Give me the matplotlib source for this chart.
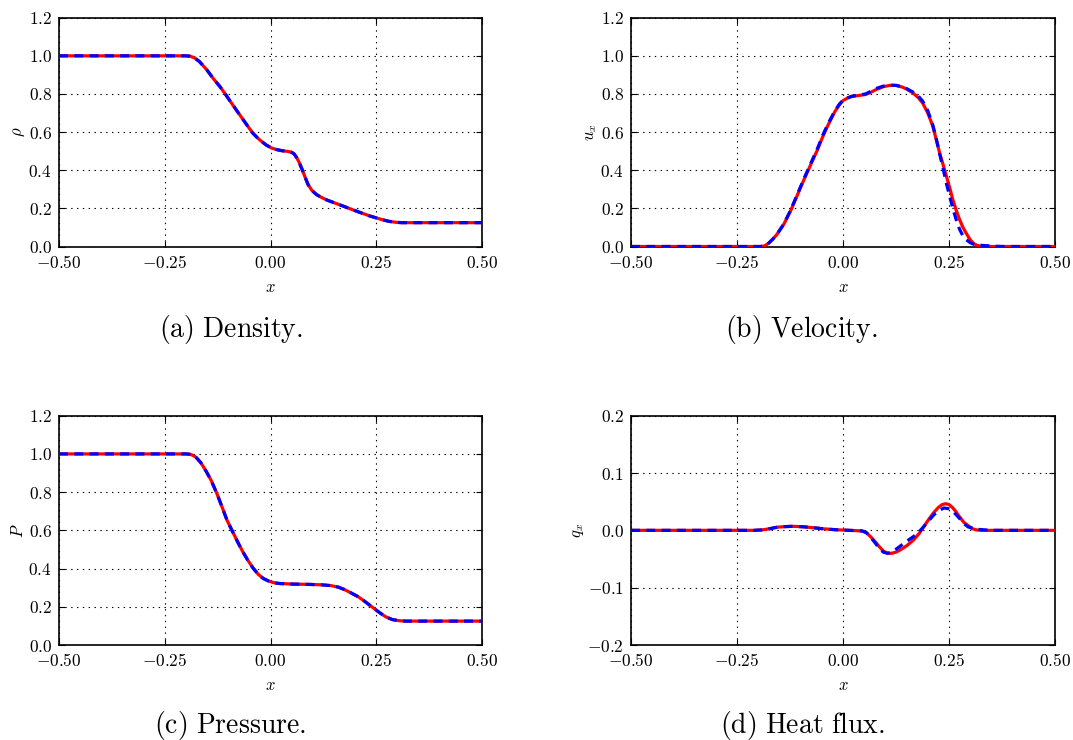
import matplotlib
matplotlib.use("Agg")
import matplotlib.pyplot as plt

plt.rcParams['mathtext.fontset'] = 'cm'
plt.rcParams['font.family'] = ['DejaVu Serif']
plt.rcParams['lines.scale_dashes'] = False

# ---------------- data ----------------
xticks = [-0.5, -0.25, 0.0, 0.25, 0.5]
xtick_labels = [r'$-0.50$', r'$-0.25$', r'$0.00$', r'$0.25$', r'$0.50$']
yticks_main = [0.0, 0.2, 0.4, 0.6, 0.8, 1.0, 1.2]
ytick_labels_main = [r'$0.0$', r'$0.2$', r'$0.4$', r'$0.6$', r'$0.8$', r'$1.0$', r'$1.2$']
yticks_q = [-0.2, -0.1, 0.0, 0.1, 0.2]
ytick_labels_q = [r'$-0.2$', r'$-0.1$', r'$0.0$', r'$0.1$', r'$0.2$']

captions = [r'$\mathrm{(a)\ Density.}$', r'$\mathrm{(b)\ Velocity.}$',
            r'$\mathrm{(c)\ Pressure.}$', r'$\mathrm{(d)\ Heat\ flux.}$']
ylabels = [r'$\rho$', r'$u_x$', r'$P$', r'$q_x$']

# Density
rho_x = [-0.5, -0.2, -0.19, -0.18, -0.168, -0.15, -0.135, -0.12, -0.107, -0.09,
         -0.07, -0.055, -0.042, -0.03, -0.021, -0.01, 0.003, 0.015, 0.028, 0.04,
         0.05, 0.056, 0.062, 0.068, 0.075, 0.082, 0.089, 0.098, 0.109, 0.12,
         0.134, 0.15, 0.174, 0.195, 0.215, 0.235, 0.25, 0.265, 0.28, 0.296,
         0.31, 0.5]
rho_red = [1.0, 1.0, 0.998, 0.99, 0.970, 0.925, 0.880, 0.84, 0.80, 0.745,
           0.682, 0.635, 0.595, 0.568, 0.551, 0.532, 0.516, 0.508, 0.502, 0.499,
           0.494, 0.485, 0.466, 0.440, 0.403, 0.362, 0.324, 0.294, 0.272, 0.258,
           0.243, 0.230, 0.210, 0.192, 0.176, 0.160, 0.150, 0.140, 0.132, 0.127,
           0.125, 0.125]
rho_blue = [1.0, 1.0, 0.998, 0.99, 0.970, 0.925, 0.880, 0.84, 0.80, 0.745,
            0.682, 0.635, 0.595, 0.568, 0.551, 0.532, 0.516, 0.508, 0.502, 0.499,
            0.494, 0.485, 0.466, 0.440, 0.403, 0.362, 0.324, 0.294, 0.272, 0.258,
            0.243, 0.230, 0.210, 0.192, 0.176, 0.160, 0.150, 0.140, 0.132, 0.127,
            0.125, 0.125]

# Velocity
u_x_red = [-0.5, -0.195, -0.185, -0.175, -0.165, -0.156, -0.14, -0.124, -0.108, -0.092,
           -0.076, -0.06, -0.048, -0.035, -0.019, -0.008, 0.0, 0.01, 0.021, 0.037,
           0.053, 0.065, 0.077, 0.095, 0.11, 0.125, 0.14, 0.15, 0.165, 0.178,
           0.188, 0.2, 0.212, 0.22, 0.228, 0.236, 0.244, 0.252, 0.259, 0.267,
           0.275, 0.283, 0.291, 0.3, 0.308, 0.315, 0.325, 0.335, 0.5]
u_red = [0.0, 0.0, 0.003, 0.018, 0.040, 0.063, 0.115, 0.185, 0.268, 0.351,
         0.430, 0.508, 0.575, 0.638, 0.708, 0.745, 0.765, 0.778, 0.787, 0.792,
         0.797, 0.808, 0.822, 0.838, 0.845, 0.845, 0.836, 0.826, 0.805, 0.78,
         0.752, 0.70, 0.630, 0.56, 0.490, 0.43, 0.368, 0.305, 0.246, 0.19,
         0.141, 0.10, 0.068, 0.035, 0.016, 0.007, 0.001, 0.0, 0.0]
u_x_blue = [-0.5, -0.195, -0.185, -0.175, -0.165, -0.156, -0.14, -0.124, -0.108, -0.092,
            -0.076, -0.06, -0.048, -0.035, -0.019, -0.008, 0.0, 0.01, 0.021, 0.037,
            0.053, 0.065, 0.077, 0.095, 0.11, 0.125, 0.14, 0.15, 0.165, 0.178,
            0.188, 0.2, 0.212, 0.22, 0.228, 0.236, 0.244, 0.252, 0.259, 0.267,
            0.275, 0.283, 0.291, 0.3, 0.308, 0.32, 0.34, 0.36, 0.38, 0.5]
u_blue = [0.0, 0.0, 0.003, 0.018, 0.040, 0.063, 0.117, 0.188, 0.272, 0.356,
          0.436, 0.515, 0.582, 0.645, 0.712, 0.748, 0.767, 0.779, 0.788, 0.794,
          0.800, 0.813, 0.828, 0.841, 0.846, 0.845, 0.838, 0.828, 0.810, 0.788,
          0.762, 0.712, 0.635, 0.565, 0.485, 0.41, 0.33, 0.26, 0.20, 0.14,
          0.09, 0.055, 0.035, 0.02, 0.012, 0.007, 0.004, 0.001, 0.0, 0.0]

# Pressure
p_x = [-0.5, -0.2, -0.19, -0.183, -0.176, -0.165, -0.151, -0.14, -0.127, -0.115,
       -0.103, -0.09, -0.078, -0.066, -0.054, -0.042, -0.029, -0.017, -0.005, 0.008,
       0.02, 0.05, 0.093, 0.12, 0.142, 0.16, 0.174, 0.19, 0.207, 0.223,
       0.239, 0.255, 0.272, 0.288, 0.305, 0.32, 0.5]
p_red = [1.0, 1.0, 0.998, 0.992, 0.982, 0.955, 0.905, 0.86, 0.794, 0.725,
         0.654, 0.595, 0.541, 0.49, 0.445, 0.405, 0.370, 0.348, 0.335, 0.326,
         0.322, 0.319, 0.317, 0.315, 0.311, 0.303, 0.291, 0.273, 0.253, 0.228,
         0.201, 0.174, 0.148, 0.133, 0.127, 0.125, 0.125]
p_blue = [1.0, 1.0, 0.998, 0.992, 0.982, 0.955, 0.905, 0.86, 0.794, 0.725,
          0.654, 0.595, 0.541, 0.49, 0.445, 0.405, 0.370, 0.348, 0.335, 0.326,
          0.322, 0.319, 0.317, 0.315, 0.311, 0.303, 0.291, 0.273, 0.253, 0.228,
          0.201, 0.174, 0.148, 0.133, 0.127, 0.125, 0.125]

# Heat flux
q_x_red = [-0.5, -0.21, -0.19, -0.172, -0.155, -0.14, -0.12, -0.108, -0.09, -0.076,
           -0.05, -0.035, -0.015, 0.0, 0.045, 0.055, 0.065, 0.075, 0.085, 0.095,
           0.105, 0.115, 0.125, 0.133, 0.15, 0.166, 0.179, 0.19, 0.203, 0.214,
           0.225, 0.234, 0.242, 0.25, 0.258, 0.266, 0.274, 0.285, 0.297, 0.305,
           0.313, 0.325, 0.5]
q_red = [0.0, 0.0, 0.0008, 0.003, 0.0055, 0.0064, 0.007, 0.0068, 0.006, 0.005,
         0.003, 0.002, 0.001, 0.0005, -0.001, -0.004, -0.011, -0.019, -0.028, -0.036,
         -0.040, -0.040, -0.038, -0.035, -0.027, -0.017, -0.006, 0.006, 0.020, 0.031,
         0.040, 0.045, 0.0465, 0.045, 0.040, 0.033, 0.0244, 0.014, 0.007, 0.003,
         0.001, 0.0, 0.0]
q_x_blue = [-0.5, -0.21, -0.19, -0.172, -0.155, -0.14, -0.12, -0.108, -0.09, -0.076,
            -0.05, -0.035, -0.015, 0.0, 0.045, 0.055, 0.065, 0.075, 0.085, 0.095,
            0.105, 0.115, 0.125, 0.134, 0.15, 0.166, 0.18, 0.19, 0.203, 0.214,
            0.225, 0.238, 0.248, 0.258, 0.266, 0.274, 0.285, 0.295, 0.305, 0.315,
            0.33, 0.35, 0.5]
q_blue = [0.0, 0.0, 0.0008, 0.003, 0.0055, 0.0064, 0.007, 0.0068, 0.006, 0.005,
          0.003, 0.002, 0.001, 0.0005, -0.001, -0.004, -0.012, -0.021, -0.031, -0.038,
          -0.040, -0.038, -0.033, -0.028, -0.019, -0.011, -0.002, 0.006, 0.0175, 0.027,
          0.034, 0.039, 0.038, 0.034, 0.028, 0.0215, 0.012, 0.006, 0.004, 0.002,
          0.001, 0.0, 0.0]

# ---------------- figure ----------------
W, H = 1073, 740
fig = plt.figure(figsize=(W / 100, H / 100), dpi=100)

def px_axes(l, r, t, b):
    return fig.add_axes([l / W, 1 - b / H, (r - l) / W, (b - t) / H])

axes = [px_axes(59, 482, 17.7, 246.5), px_axes(631, 1055, 17.7, 246.5),
        px_axes(59, 482, 415.7, 645), px_axes(631, 1055, 415.7, 645)]

series = [(rho_x, rho_red, rho_x, rho_blue),
          (u_x_red, u_red, u_x_blue, u_blue),
          (p_x, p_red, p_x, p_blue),
          (q_x_red, q_red, q_x_blue, q_blue)]

for i, ax in enumerate(axes):
    xr, yr, xb, yb = series[i]
    ax.plot(xr, yr, color='#ff0000', lw=2.3, solid_capstyle='butt',
            solid_joinstyle='round', zorder=3)
    ax.plot(xb, yb, color='#0000ff', lw=2.3, dashes=(6.5, 4.5),
            dash_capstyle='butt', dash_joinstyle='round', zorder=4)
    ax.set_xlim(-0.5, 0.5)
    ax.set_xticks(xticks)
    ax.set_xticklabels(xtick_labels)
    if i == 3:
        ax.set_ylim(-0.2, 0.2)
        ax.set_yticks(yticks_q)
        ax.set_yticklabels(ytick_labels_q)
    else:
        ax.set_ylim(0.0, 1.2)
        ax.set_yticks(yticks_main)
        ax.set_yticklabels(ytick_labels_main)
    ax.grid(True, color='k', lw=0.8, linestyle=(0, (1, 3.2)), zorder=1)
    ax.set_axisbelow(True)
    ax.tick_params(direction='in', top=True, right=True, length=4, width=0.8,
                   labelsize=12.5)
    ax.tick_params(axis='x', pad=6)
    ax.tick_params(axis='y', pad=5)
    for s in ax.spines.values():
        s.set_linewidth(1.2)
    ax.set_xlabel(r'$x$', fontsize=12, labelpad=5)
    ax.set_ylabel(ylabels[i], fontsize=12, labelpad=1)

cap_pos = [(231, 337), (801, 337), (230, 733), (802, 733)]
for (cx, cy), txt in zip(cap_pos, captions):
    fig.text(cx / W, 1 - cy / H, txt, ha='center', va='baseline', fontsize=20)

fig.savefig('out.png', dpi=100)
